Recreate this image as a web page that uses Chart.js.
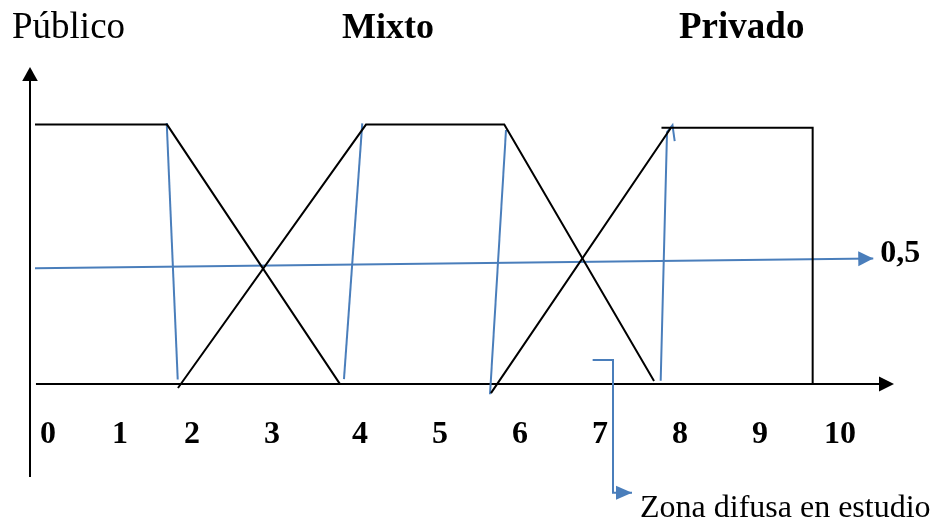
<!DOCTYPE html>
<html>
<head>
<meta charset="utf-8">
<script src="https://cdn.jsdelivr.net/npm/chart.js@4"></script>
<style>
html,body{margin:0;padding:0;background:#fff}
#wrap{width:934px;height:522px;position:relative}
</style>
</head>
<body>
<div id="wrap"><canvas id="c"></canvas></div>
<script>
// ---- data (axis units: x = scale position, y = membership degree) ----
const tickLabels = ['0','1','2','3','4','5','6','7','8','9','10'];
const tickPositions = [0, 0.909, 1.818, 2.828, 3.939, 4.949, 5.960, 6.970, 7.980, 8.990, 10];

const publicoX = [-0.164, 1.503, 3.687];
const publicoY = [1, 1, 0];

const mixtoX = [1.641, 4.015, 5.761, 7.652];
const mixtoY = [-0.015, 1, 1, 0.012];

const privadoX = [5.593, 7.866, 7.746, 9.655, 9.655];
const privadoY = [-0.035, 0.988, 0.988, 0.988, 0];

const blue1X = [1.499, 1.638];             const blue1Y = [1.006, 0.018];
const blue2X = [3.737, 3.968];             const blue2Y = [0.019, 1.005];
const blue3X = [5.783, 5.581];             const blue3Y = [0.979, -0.039];
const blue4X = [7.736, 7.816, 7.885, 7.913]; const blue4Y = [0.013, 0.971, 0.998, 0.936];

const halfX = [-0.164, 10.42];             const halfY = [0.446, 0.484];
const halfLabel = '0,5';

const zoneX = [6.877, 7.134, 7.134, 7.374]; const zoneY = [0.0925, 0.0925, -0.419, -0.419];
const zoneLabel = 'Zona difusa en estudio';

const setNames = ['Público', 'Mixto', 'Privado'];

const X_MIN = -0.2273, X_MAX = 10.682;
const Y_MIN = -0.358, Y_MAX = 1.222;
const AXIS_X_START = -0.152;

// ---- build ----
const pts = (xs, ys) => xs.map((x, i) => ({x, y: ys[i]}));
const BLUE = '#4a7ebb';
const line = (data, color, extra) => Object.assign({
  data, showLine: true, borderColor: color, backgroundColor: color,
  borderWidth: 2, pointRadius: 0, pointHoverRadius: 0, fill: false,
  tension: 0, clip: false
}, extra || {});

const datasets = [
  line(pts(publicoX, publicoY), '#000', {label: setNames[0]}),
  line(pts(mixtoX, mixtoY), '#000', {label: setNames[1]}),
  line(pts(privadoX, privadoY), '#000', {label: setNames[2]}),
  line(pts(blue1X, blue1Y), BLUE),
  line(pts(blue2X, blue2Y), BLUE),
  line(pts(blue3X, blue3Y), BLUE),
  line(pts(blue4X, blue4Y), BLUE),
  line(pts(halfX, halfY), BLUE, {arrowHead: {len: 15, half: 7.5}}),
  line(pts(zoneX, zoneY), BLUE, {arrowHead: {len: 16, half: 7}})
];

function drawHead(ctx, x1, y1, x2, y2, len, half, color) {
  const a = Math.atan2(y2 - y1, x2 - x1);
  ctx.save();
  ctx.translate(x2, y2);
  ctx.rotate(a);
  ctx.beginPath();
  ctx.moveTo(0, 0);
  ctx.lineTo(-len, -half);
  ctx.lineTo(-len, half);
  ctx.closePath();
  ctx.fillStyle = color;
  ctx.fill();
  ctx.restore();
}

const decor = {
  id: 'decor',
  beforeDatasetsDraw(chart) {
    const {ctx, chartArea, scales: {x, y}} = chart;
    ctx.save();
    ctx.strokeStyle = '#000';
    ctx.lineWidth = 2;
    // y axis
    ctx.beginPath();
    ctx.moveTo(chartArea.left, chartArea.bottom);
    ctx.lineTo(chartArea.left, chartArea.top + 12);
    ctx.stroke();
    drawHead(ctx, chartArea.left, chartArea.bottom, chartArea.left, chartArea.top, 14, 7.8, '#000');
    // x axis
    const y0 = y.getPixelForValue(0);
    ctx.beginPath();
    ctx.moveTo(x.getPixelForValue(AXIS_X_START), y0);
    ctx.lineTo(chartArea.right - 12, y0);
    ctx.stroke();
    drawHead(ctx, chartArea.left, y0, chartArea.right, y0, 15, 7.5, '#000');
    ctx.restore();
  },
  afterDatasetsDraw(chart) {
    const {ctx} = chart;
    chart.data.datasets.forEach((ds, i) => {
      if (!ds.arrowHead) return;
      const pts = chart.getDatasetMeta(i).data;
      const p1 = pts[pts.length - 2], p2 = pts[pts.length - 1];
      drawHead(ctx, p1.x, p1.y, p2.x, p2.y, ds.arrowHead.len, ds.arrowHead.half, ds.borderColor);
    });
    ctx.save();
    ctx.fillStyle = '#000';
    ctx.textBaseline = 'alphabetic';
    ctx.textAlign = 'left';
    ctx.font = '37px "Liberation Serif"';
    ctx.fillText(setNames[0], 12, 38);
    ctx.font = 'bold 36px "Liberation Serif"';
    ctx.textAlign = 'center';
    ctx.fillText(setNames[1], 388, 38);
    ctx.font = 'bold 37px "Liberation Serif"';
    ctx.textAlign = 'left';
    ctx.fillText(setNames[2], 679, 38);
    // 0,5 label next to arrow tip
    const meta = chart.getDatasetMeta(7).data;
    const tip = meta[meta.length - 1];
    ctx.font = 'bold 32px "Liberation Serif"';
    ctx.fillText(halfLabel, tip.x + 7, tip.y + 3);
    // zone label
    const zm = chart.getDatasetMeta(8).data;
    const zt = zm[zm.length - 1];
    ctx.font = '32px "Liberation Serif"';
    ctx.fillText(zoneLabel, zt.x + 8, zt.y + 24);
    ctx.restore();
  }
};

new Chart(document.getElementById('c'), {
  type: 'scatter',
  data: {datasets},
  options: {
    responsive: true,
    maintainAspectRatio: false,
    animation: false,
    events: [],
    layout: {padding: {left: 30, right: 40, top: 67, bottom: 45}},
    plugins: {legend: {display: false}, tooltip: {enabled: false}, title: {display: false}},
    scales: {
      x: {
        type: 'linear', min: X_MIN, max: X_MAX,
        position: {y: 0},
        grid: {display: false, drawTicks: false},
        border: {display: false},
        afterFit: s => { s.height = 0; },
        afterBuildTicks: s => { s.ticks = tickPositions.map(v => ({value: v})); },
        ticks: {
          autoSkip: false, maxRotation: 0, padding: 31, color: '#000',
          font: {family: 'Liberation Serif', size: 32, weight: 'bold'},
          callback: (v, i) => tickLabels[i]
        }
      },
      y: {
        type: 'linear', min: Y_MIN, max: Y_MAX, display: false
      }
    }
  },
  plugins: [decor]
});
</script>
</body>
</html>
